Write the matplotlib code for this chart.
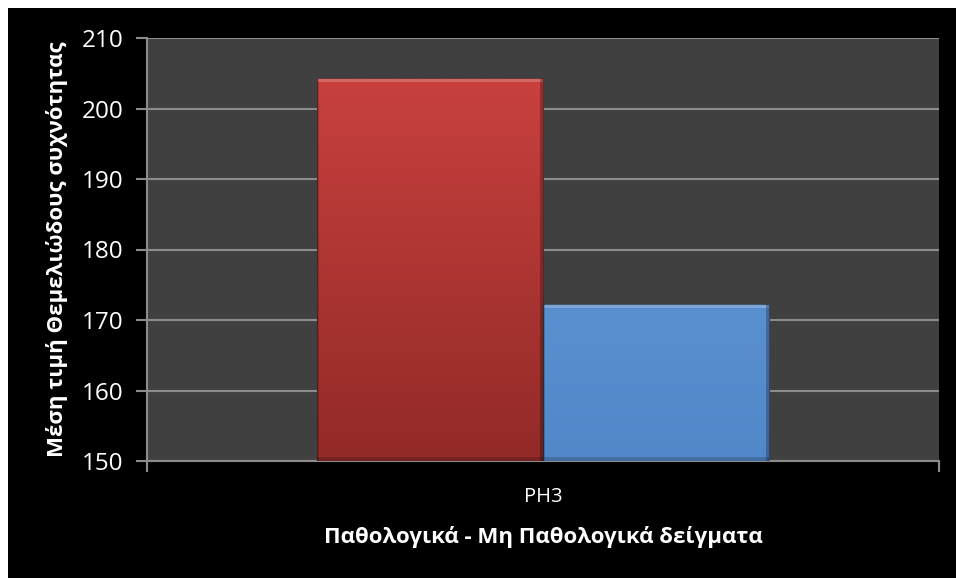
import numpy as np
import matplotlib.pyplot as plt
from matplotlib.colors import LinearSegmentedColormap
from matplotlib.patches import Rectangle

categories = ['PH3']
series_names = ['Παθολογικά', 'Μη Παθολογικά']
series_values = [204.3, 172.3]
series_top = ['#c8413e', '#5a8fd0']
series_bottom = ['#922a28', '#5287c9']
y_ticks = [150, 160, 170, 180, 190, 200, 210]

fonts = ['Open Sans', 'DejaVu Sans']
plt.rcParams['font.family'] = fonts

fig = plt.figure(figsize=(9.56, 5.78), dpi=100)
fig.patch.set_facecolor('white')
# black chart area, with a thin white strip on the top and left
fig.patches.append(Rectangle((8 / 956, 0), 1, 1 - 8 / 578, transform=fig.transFigure,
                             facecolor='black', edgecolor='none', zorder=-10))

ax = fig.add_axes([147 / 956, 1 - 461 / 578, 792 / 956, 423 / 578])
ax.set_facecolor('#404040')

group = 1 / 1.75
width = group / len(series_values)
x0 = 0 - group / 2

for i, (val, c_top, c_bot) in enumerate(zip(series_values, series_top, series_bottom)):
    left = x0 + i * width
    bar = ax.bar(left, val - y_ticks[0], width=width, bottom=y_ticks[0], align='edge',
                 color=c_top, edgecolor='none', zorder=3)[0]
    # vertical gradient inside the bar
    cmap = LinearSegmentedColormap.from_list('g%d' % i, [c_bot, c_top])
    grad = np.linspace(0, 1, 256).reshape(-1, 1)
    im = ax.imshow(grad, cmap=cmap, origin='lower', aspect='auto',
                   extent=[left, left + width, y_ticks[0], val], zorder=3.1)
    im.set_clip_path(bar)
    # bevel: light top strip, darker lower and side edges
    h = val - y_ticks[0]
    ax.add_patch(Rectangle((left, val - 0.6), width, 0.6, facecolor='white',
                           alpha=0.22, edgecolor='none', zorder=3.2))
    ax.add_patch(Rectangle((left, y_ticks[0]), width, 0.5, facecolor='black',
                           alpha=0.18, edgecolor='none', zorder=3.2))
    ax.add_patch(Rectangle((left + width * 0.985, y_ticks[0]), width * 0.015, h,
                           facecolor='black', alpha=0.25, edgecolor='none', zorder=3.2))
    ax.add_patch(Rectangle((left, y_ticks[0]), width * 0.01, h,
                           facecolor='black', alpha=0.15, edgecolor='none', zorder=3.2))
    ax.add_patch(Rectangle((left, y_ticks[0]), width, h, facecolor='none',
                           edgecolor='#202020', lw=0.8, alpha=0.6, zorder=3.3))

ax.set_xlim(-0.5, 0.5)
ax.set_ylim(y_ticks[0], y_ticks[-1])
ax.set_yticks(y_ticks)
ax.set_xticks([-0.5, 0.5])
ax.set_xticklabels(['', ''])
ax.text(0, -0.085, categories[0], transform=ax.get_xaxis_transform(),
        ha='center', va='center', color='white', fontsize=14.5)

ax.grid(axis='y', color='#8c8c8c', lw=1.5, zorder=1)
ax.set_axisbelow(True)
for side in ['top', 'right']:
    ax.spines[side].set_visible(False)
for side in ['left', 'bottom']:
    ax.spines[side].set_color('#8c8c8c')
    ax.spines[side].set_linewidth(1.5)
ax.tick_params(axis='both', color='#8c8c8c', width=1.5, length=8, direction='out')
ax.tick_params(axis='y', labelcolor='white', labelsize=17.5, pad=9)

ax.set_xlabel('Παθολογικά - Μη Παθολογικά δείγματα', color='white', fontsize=16,
              fontweight='bold', labelpad=35)
ax.set_ylabel('Μέση τιμή Θεμελιώδους συχνότητας', color='white', fontsize=16,
              fontweight='bold', labelpad=10)

fig.savefig('out.png', dpi=100, facecolor=fig.get_facecolor())
